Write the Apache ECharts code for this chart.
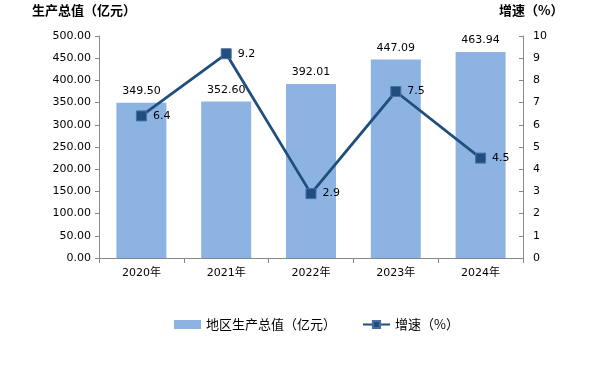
<!DOCTYPE html>
<html><head><meta charset="utf-8">
<script src="https://cdn.jsdelivr.net/npm/echarts@6/dist/echarts.min.js"></script>
<style>html,body{margin:0;padding:0;background:#fff}#c{width:612px;height:370px}</style>
</head><body><div id="c"></div>
<script>
const categories = ['2020年','2021年','2022年','2023年','2024年'];
const gdpValues = [349.50, 352.60, 392.01, 447.09, 463.94];
const growthValues = [6.4, 9.2, 2.9, 7.5, 4.5];
const gdpName = '地区生产总值（亿元）';
const growthName = '增速（%）';

const FONT = '"DejaVu Sans", "Noto Sans CJK SC", sans-serif';
const chart = echarts.init(document.getElementById('c'), null, {renderer:'canvas'});
chart.setOption({
  animation:false,
  textStyle:{fontFamily:FONT},
  graphic:[
    {type:'text', left:32, top:4, style:{text:'生产总值（亿元）', font:'bold 13px "Noto Sans CJK SC", sans-serif', fill:'#000'}},
    {type:'text', left:499, top:4, style:{text:'增速（%）', font:'bold 13px "Noto Sans CJK SC", sans-serif', fill:'#000'}}
  ],
  grid:{left:99, right:89, top:36, bottom:112, containLabel:false},
  legend:{
    bottom:34, left:169, itemGap:26, itemWidth:27, itemHeight:9,
    textStyle:{fontSize:13, fontFamily:'"Noto Sans CJK SC", sans-serif', color:'#000'},
    data:[{name:gdpName, icon:'rect'}, {name:growthName}]
  },
  xAxis:{
    type:'category', data:categories,
    axisLine:{lineStyle:{color:'#888'}},
    axisTick:{show:true, length:5, lineStyle:{color:'#888'}},
    axisLabel:{color:'#000', fontSize:11, margin:10, fontFamily:FONT}
  },
  yAxis:[
    {type:'value', min:0, max:500, interval:50, position:'left',
     axisLine:{show:true, lineStyle:{color:'#888'}},
     axisTick:{show:true, length:4, lineStyle:{color:'#888'}},
     splitLine:{show:false},
     axisLabel:{color:'#000', fontSize:11, margin:8, formatter:v=>v.toFixed(2)}},
    {type:'value', min:0, max:10, interval:1, position:'right',
     axisLine:{show:true, lineStyle:{color:'#888'}},
     axisTick:{show:true, inside:true, length:4, lineStyle:{color:'#888'}},
     splitLine:{show:false},
     axisLabel:{color:'#000', fontSize:11, margin:10}}
  ],
  series:[
    {name:gdpName, type:'bar', data:gdpValues, yAxisIndex:0, barWidth:50,
     itemStyle:{color:'#8DB3E2'},
     label:{show:true, position:'top', distance:6, color:'#000', fontSize:11, formatter:p=>p.value.toFixed(2)}},
    {name:growthName, type:'line', data:growthValues, yAxisIndex:1,
     symbol:'rect', symbolSize:10,
     lineStyle:{color:'#1F4E7F', width:2.8},
     itemStyle:{color:'#1F4E7F', borderColor:'#4A6FA0', borderWidth:1},
     label:{show:true, position:'right', distance:6, color:'#000', fontSize:11, formatter:p=>String(p.value)}}
  ]
});
</script></body></html>
